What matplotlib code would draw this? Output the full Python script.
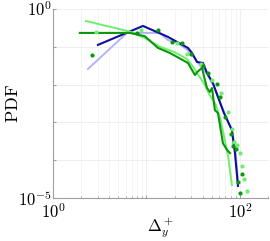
import numpy as np
import matplotlib.pyplot as plt
from matplotlib.ticker import FixedLocator, LogLocator, NullFormatter, FixedFormatter

plt.rcParams['mathtext.fontset'] = 'cm'
plt.rcParams['font.family'] = 'DejaVu Serif'

# navy line
navy_x = [3.03, 9.18, 17.0, 27.8, 30.7, 34.7, 40.2, 44.4, 51.4, 58.2, 67.4, 82.1, 88.4, 95.2]
navy_y = [0.112, 0.355, 0.182, 0.093, 0.0686, 0.0396, 0.0373, 0.0203, 0.011, 0.0047, 0.00177, 0.00063, 0.000155, 2.1e-5]

# light blue line
lav_x = [2.37, 6.19, 8.95, 14.0, 17.0, 21.0, 27.0, 33.0, 37.0, 45.0, 52.0, 60.0, 70.0, 82.0, 90.0, 96.0]
lav_y = [0.0259, 0.232, 0.232, 0.232, 0.15, 0.13, 0.085, 0.05, 0.033, 0.018, 0.0095, 0.004, 0.0015, 0.0006, 0.00015, 2.5e-5]

# bright green line
lg_x = [2.25, 6.7, 9.6, 14.0, 20.0, 27.0, 31.4, 34.0, 37.0, 42.0, 47.0, 55.0, 62.0, 68.0, 75.0, 82.0]
lg_y = [0.48, 0.25, 0.17, 0.10, 0.072, 0.048, 0.030, 0.022, 0.016, 0.010, 0.0055, 0.0030, 0.0012, 0.0004, 0.00012, 2.2e-5]

# dark green line
dg_x = [1.94, 2.88, 6.66, 9.6, 13.3, 17.8, 27.8, 33.0, 35.0, 39.2, 44.4, 47.7, 50.2, 54.0, 58.2, 65.8, 72.6, 78.2]
dg_y = [0.232, 0.232, 0.232, 0.19, 0.093, 0.0686, 0.0373, 0.0179, 0.0216, 0.0275, 0.0081, 0.0064, 0.0081, 0.0021, 0.00177, 0.00028, 0.00019, 0.000155]

# dark green dots
dgd_x = [2.61, 7.91, 13.3, 18.7, 24.0, 29.9, 40.2, 45.5, 56.7, 61.1, 69.1, 80.2, 84.2, 90.6, 105.0, 95.2, 100.0]
dgd_y = [0.0607, 0.232, 0.278, 0.134, 0.126, 0.0645, 0.031, 0.0203, 0.0104, 0.0047, 0.00139, 0.000493, 0.000238, 0.000198, 4.3e-5, 2.65e-5, 1.36e-5]

# bright green dots
lgd_x = [2.88, 8.7, 21.0, 27.1, 38.0, 50.2, 62.7, 74.4, 82.1, 86.3, 92.9, 100.0, 105.0, 110.0, 119.0]
lgd_y = [0.246, 0.278, 0.126, 0.0645, 0.035, 0.0132, 0.006, 0.00188, 0.000669, 0.000303, 0.000252, 0.000155, 7e-5, 3.18e-5, 1.5e-5]

fig = plt.figure(figsize=(2.7, 2.41), dpi=100)
ax = fig.add_axes([0.196, 0.178, 0.797, 0.785])

ax.plot(lav_x, lav_y, color='#b3b3f7', lw=1.4)
ax.plot(navy_x, navy_y, color='#10109a', lw=1.5)
ax.plot(lg_x, lg_y, color='#6cf06c', lw=1.4)
ax.plot(dg_x, dg_y, color='#0b960b', lw=1.5)
ax.plot(lgd_x, lgd_y, 'o', color='#6cf06c', ms=3, mec='none')
ax.plot(dgd_x, dgd_y, 'o', color='#0b960b', ms=3, mec='none')

ax.set_xscale('log')
ax.set_yscale('log')
ax.set_xlim(1, 200)
ax.set_ylim(1e-5, 1)

ax.xaxis.set_major_locator(FixedLocator([1, 10, 100]))
ax.xaxis.set_major_formatter(FixedFormatter([r'$10^{0}$', '', r'$10^{2}$']))
ax.xaxis.set_minor_locator(LogLocator(base=10, subs=np.arange(2, 10)))
ax.xaxis.set_minor_formatter(NullFormatter())
ax.yaxis.set_major_locator(FixedLocator([1e-5, 1e-4, 1e-3, 1e-2, 1e-1, 1]))
ax.yaxis.set_major_formatter(FixedFormatter([r'$10^{-5}$', '', '', '', '', r'$10^{0}$']))
ax.yaxis.set_minor_locator(FixedLocator([]))

ax.grid(True, which='major', color='#ececec', lw=0.6)
ax.grid(True, which='minor', axis='x', color='#f3f3f3', lw=0.6)
ax.set_axisbelow(True)

for s in ['top', 'right']:
    ax.spines[s].set_visible(False)
for s in ['left', 'bottom']:
    ax.spines[s].set_color('#a0a0a0')
    ax.spines[s].set_linewidth(0.8)
ax.tick_params(which='both', direction='in', color='#a0a0a0', labelsize=12)
ax.tick_params(axis='x', pad=4)
ax.tick_params(axis='y', pad=1)
ax.tick_params(which='major', length=2.5)
ax.tick_params(which='minor', length=1.5)

ax.set_ylabel(r'$\mathrm{PDF}$', fontsize=13, labelpad=-3)
ax.set_xlabel(r'$\Delta_y^+$', fontsize=12, labelpad=-5)

fig.savefig('out.png', dpi=100)
